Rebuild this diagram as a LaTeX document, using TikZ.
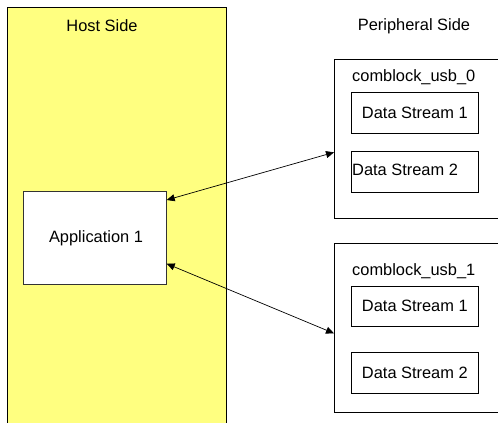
\documentclass[tikz,border=0pt]{standalone}
\usepackage{fontspec}
\setmainfont{Liberation Sans}
\usetikzlibrary{arrows.meta}
\definecolor{hostyellow}{RGB}{255,255,128}
\begin{document}
\begin{tikzpicture}[x=1pt,y=-1pt,
  txt/.style={inner sep=0pt,font=\fontsize{16.4}{19}\selectfont},
  box/.style={draw=black,line width=0.7pt,fill=white,inner sep=0pt,anchor=north west},
  link/.style={line width=0.7pt,{Triangle[length=8pt,width=7pt]}-{Triangle[length=8pt,width=7pt]}}]
\useasboundingbox (0,0) rectangle (498,423);
\clip (0,0) rectangle (498,423);
% host side
\node[draw=black,line width=0.7pt,fill=hostyellow,anchor=north west,minimum width=219pt,minimum height=430pt,inner sep=0pt] (host) at (7,7) {};
\node[txt] (hostlbl) at (102,26) {Host Side};
\node[box,draw=black!80,minimum width=143pt,minimum height=93pt] (app) at (23,191) {};
\node[txt] (applbl) at (96,238) {Application 1};
% peripheral side
\node[txt] (perlbl) at (414,26) {Peripheral Side};
\node[box,minimum width=163.5pt,minimum height=159pt] (usb0) at (334,59) {};
\node[txt,anchor=west] (usb0lbl) at (352,77) {comblock\_usb\_0};
\node[box,minimum width=127pt,minimum height=41pt] (ds01) at (351,92) {};
\node[txt] (ds01lbl) at (ds01.center) {Data Stream 1};
\node[box,minimum width=127pt,minimum height=41pt] (ds02) at (351,151) {};
\node[txt,anchor=west] (ds02lbl) at (352,170) {Data Stream 2};
\node[box,minimum width=163.5pt,minimum height=169pt] (usb1) at (334,243) {};
\node[txt,anchor=west] (usb1lbl) at (352,271) {comblock\_usb\_1};
\node[box,minimum width=127pt,minimum height=40pt] (ds11) at (351,286) {};
\node[txt] (ds11lbl) at (ds11.center) {Data Stream 1};
\node[box,minimum width=127pt,minimum height=41pt] (ds12) at (351,352) {};
\node[txt] (ds12lbl) at (ds12.center) {Data Stream 2};
% connectors
\draw[link] ([yshift=-9pt]app.north east) -- ([yshift=-13.5pt]usb0.west);
\draw[link] ([yshift=21pt]app.south east) -- ([yshift=-5.5pt]usb1.west);
\end{tikzpicture}
\end{document}
